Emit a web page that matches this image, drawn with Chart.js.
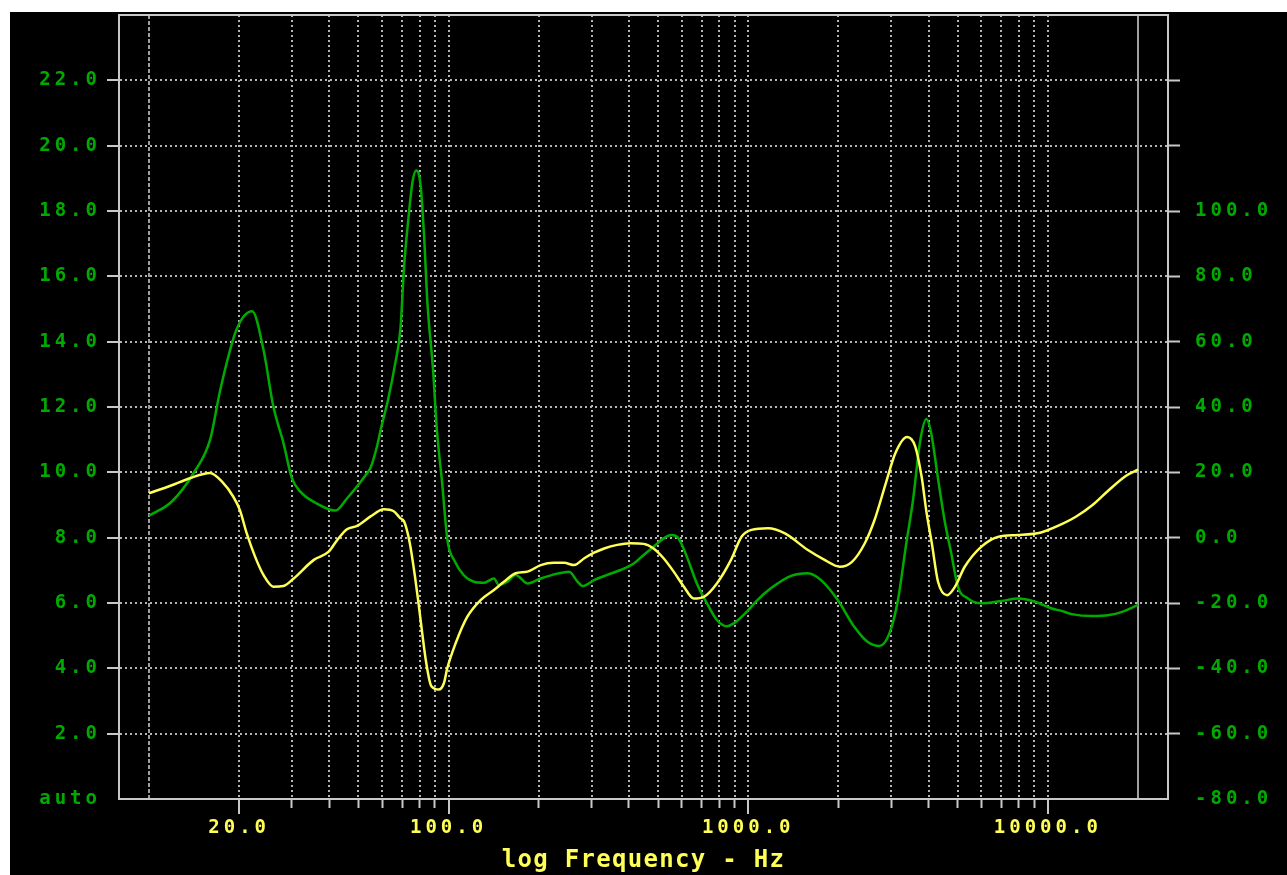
<!DOCTYPE html>
<html>
<head>
<meta charset="utf-8">
<title>Impedance and Phase vs Frequency</title>
<script src="https://cdn.jsdelivr.net/npm/chart.js@4.4.1/dist/chart.umd.min.js"></script>
<style>
    html, body { margin: 0; padding: 0; background: #ffffff; }
    #panel { position: absolute; left: 10px; top: 12px; width: 1277px; height: 863px; background: #000000; }
    #impedanceChart { display: block; }
</style>
</head>
<body>
<div id="panel"><canvas id="impedanceChart" width="1277" height="863"></canvas></div>
<script>
// ===========================
// Measured data (read off the plot)
// ===========================

// impedance magnitude, ohms (left axis)
const impFreqHz = [10, 11.9, 14.1, 16, 17.3, 19.6, 22.1, 24.1, 26, 28.1, 30, 32, 35.9, 41.9, 45.8, 53.5, 54.9, 57.7,
    59.5, 62.8, 66.3, 69.1, 71, 73.3, 75.8, 78, 80.6, 82.8, 85, 88.8, 91.3, 95.1, 99.2, 104.5, 112.4, 121.5, 131.3,
    141.7, 147.1, 157, 167.5, 183.4, 203, 230.8, 252.5, 269.6, 280.1, 305.9, 338.5, 374.9, 415, 447.9, 483.3, 521.8,
    556.1, 584.9, 623.8, 673.8, 728.3, 786.1, 848.8, 892, 988, 1073, 1190, 1390, 1582, 1750, 1990, 2260, 2500, 2740,
    2960, 3160, 3370, 3550, 3740, 3930, 4080, 4290, 4520, 4760, 5010, 5410, 5990, 7000, 7960, 9060, 10300, 11100,
    12000, 14100, 16000, 17700, 20000];
const impOhms = [8.67, 9.1, 9.98, 11.0, 12.53, 14.37, 14.93, 13.76, 12.02, 10.9, 9.82, 9.41, 9.07, 8.83, 9.2, 9.98, 10.14, 10.8,
    11.35, 12.22, 13.32, 14.41, 16.28, 17.7, 18.9, 19.24, 18.8, 17.26, 15.18, 13.1, 11.35, 9.7, 7.9, 7.3, 6.85, 6.65, 6.62,
    6.75, 6.55, 6.65, 6.86, 6.6, 6.75, 6.9, 6.96, 6.65, 6.52, 6.7, 6.86, 7.01, 7.21, 7.47, 7.72, 7.98,
    8.08, 7.98, 7.42, 6.6, 5.99, 5.48, 5.29, 5.37, 5.73, 6.09, 6.45, 6.83, 6.91, 6.7, 6.09, 5.27, 4.81, 4.68,
    5.07, 6.09, 7.83, 9.16, 10.9, 11.63, 11.2, 9.87, 8.54, 7.52, 6.5, 6.14, 5.99, 6.06, 6.14, 6.04, 5.83, 5.76,
    5.66, 5.6, 5.63, 5.73, 5.94];

// phase, degrees (right axis)
const phaseFreqHz = [10, 11.8, 13.7, 16, 17.5, 19.1, 20.1, 21.2, 22.6, 24.1, 26, 28.1, 30.4, 35.5, 39.8, 42.5, 45.8, 49.5,
    54.9, 60.8, 65.6, 68.9, 71, 74.2, 77.4, 79.4, 81.6, 84, 87.5, 92.8, 96.5, 98.9, 105.5, 115.5, 127.9, 141.7, 153,
    167.5, 183.4, 203, 224.7, 243, 262.5, 283.8, 306, 330.5, 365.7, 405, 447.9, 483.3, 521.8, 564, 610, 658, 711,
    786, 876, 950, 1025, 1164, 1326, 1582, 1798, 2020, 2220, 2450, 2640, 2880, 3100, 3390, 3610, 3790, 3940, 4100,
    4300, 4610, 4900, 5280, 5990, 6850, 7960, 9490, 10800, 12400, 14100, 16000, 18200, 20000];
const phaseDeg = [13.6, 15.9, 18.2, 19.8, 17.2, 12.6, 8.5, 1.3, -5.8, -11.4, -15.0, -14.8, -12.5, -6.8, -4.3, -0.7, 2.6, 3.6,
    6.5, 8.7, 8.1, 6.0, 5.0, -1.6, -12.5, -20.2, -29.0, -37.7, -45.4, -46.5, -44.5, -40.1, -32.4, -24.2, -19.1, -16.0, -13.5,
    -10.9, -10.4, -8.4, -7.7, -7.7, -8.4, -6.3, -4.6, -3.3, -2.2, -1.7, -1.9, -3.3, -6.3, -10.4, -15.0, -18.6, -18.1,
    -14.0, -6.8, 0.3, 2.4, 2.9, 1.3, -3.8, -6.8, -8.9, -7.4, -1.7, 5.4, 16.7, 25.9, 30.8, 27.9, 18.7, 7.5, -1.7,
    -13.5, -17.6, -15.0, -8.9, -2.8, 0.3, 0.8, 1.6, 3.6, 6.4, 10.0, 14.6, 18.9, 20.8];

// frequency grid lines and the ones that get a label
const freqGridHz = [10, 20, 30, 40, 50, 60, 70, 80, 90, 100, 200, 300, 400, 500, 600, 700, 800, 900,
    1000, 2000, 3000, 4000, 5000, 6000, 7000, 8000, 9000, 10000, 20000];
const freqLabeledHz = [20, 100, 1000, 10000];
const freqEdgeHz = [10, 20000];

const FREQ_MIN = 7.943;
const FREQ_MAX = 25179;

// ===========================
// Look
// ===========================

const GREEN = '#00aa00';
const YELLOW = '#ffff55';
const FRAME = '#c8c8c8';
const GRID = '#b4b4b4';
const EDGE_LINE = '#a0a0a0';
const MONO = "'DejaVu Sans Mono', 'Liberation Mono', monospace";
const TICK_FONT = { family: MONO, size: 19, weight: 'bold' };

// Chart.js has no letter spacing option, the old bitmap font is very wide
const letterSpacingPlugin = {
    id: 'letterSpacing',
    beforeDraw(chart) { chart.ctx.letterSpacing = '1.3px'; },          // axis title (grid layer)
    afterDatasetsDraw(chart) { chart.ctx.letterSpacing = '4px'; },     // tick labels (z = 1)
    afterDraw(chart) { chart.ctx.letterSpacing = '0px'; }
};

function setFreqTicks(scale) {
    scale.ticks = freqGridHz.map(v => ({ value: v }));
}

// the frame is fixed, label overhang must not push the plot area around
function fixBox(width, height) {
    return (scale) => {
        if (width !== null) scale.width = width;
        if (height !== null) scale.height = height;
        scale.paddingTop = 0;
        scale.paddingBottom = 0;
        scale.paddingLeft = 0;
        scale.paddingRight = 0;
    };
}

document.addEventListener('DOMContentLoaded', function() {
    initializeChart();
});

// ===========================
// Chart
// ===========================

let impedanceChart;

function initializeChart() {
    const ctx = document.getElementById('impedanceChart');
    if (!ctx) return;

    impedanceChart = new Chart(ctx, {
        type: 'line',
        data: {
            datasets: [{
                label: 'Phase',
                data: phaseFreqHz.map((f, i) => ({ x: f, y: phaseDeg[i] })),
                xAxisID: 'x',
                yAxisID: 'y2',
                borderColor: YELLOW,
                borderWidth: 2.5,
                pointRadius: 0,
                cubicInterpolationMode: 'monotone',
                fill: false
            }, {
                label: 'Impedance',
                data: impFreqHz.map((f, i) => ({ x: f, y: impOhms[i] })),
                xAxisID: 'x',
                yAxisID: 'y',
                borderColor: GREEN,
                borderWidth: 2.5,
                pointRadius: 0,
                cubicInterpolationMode: 'monotone',
                fill: false
            }]
        },
        options: {
            responsive: false,
            devicePixelRatio: 1,
            animation: false,
            layout: { padding: 0 },
            plugins: {
                legend: { display: false },
                tooltip: { enabled: false }
            },
            scales: {
                x: {
                    type: 'logarithmic',
                    position: 'bottom',
                    min: FREQ_MIN,
                    max: FREQ_MAX,
                    afterBuildTicks: setFreqTicks,
                    afterFit: fixBox(null, 76),
                    grid: {
                        color: (c) => freqEdgeHz.includes(c.tick.value) ? EDGE_LINE : GRID,
                        lineWidth: 2,
                        drawTicks: true,
                        tickLength: 15,
                        tickWidth: 2,
                        tickColor: (c) => freqLabeledHz.includes(c.tick.value) ? FRAME : 'transparent'
                    },
                    border: {
                        display: true,
                        color: FRAME,
                        width: 2,
                        dash: (c) => {
                            if (!c.tick) return [];
                            if (c.tick.value === 10) return [4, 2];
                            if (c.tick.value === 20000) return [];
                            return [2, 3];
                        }
                    },
                    ticks: {
                        z: 1,
                        autoSkip: false,
                        maxRotation: 0,
                        minRotation: 0,
                        padding: 3,
                        color: YELLOW,
                        font: TICK_FONT,
                        callback: (value) => freqLabeledHz.includes(value) ? value.toFixed(1) : ''
                    },
                    title: {
                        display: true,
                        text: 'log Frequency - Hz',
                        color: YELLOW,
                        font: { family: MONO, size: 24, weight: 'bold' },
                        padding: { top: 0, bottom: 0 }
                    }
                },
                xMinor: {
                    type: 'logarithmic',
                    position: { y: 0 },
                    min: FREQ_MIN,
                    max: FREQ_MAX,
                    afterBuildTicks: setFreqTicks,
                    grid: {
                        drawOnChartArea: false,
                        drawTicks: true,
                        tickLength: 9,
                        tickWidth: 2,
                        tickColor: (c) => (freqLabeledHz.includes(c.tick.value) || freqEdgeHz.includes(c.tick.value))
                            ? 'transparent' : FRAME
                    },
                    border: { display: false },
                    ticks: { display: false, autoSkip: false }
                },
                xTop: {
                    type: 'logarithmic',
                    position: 'top',
                    min: FREQ_MIN,
                    max: FREQ_MAX,
                    afterFit: fixBox(null, 3),
                    grid: { drawOnChartArea: false, drawTicks: false },
                    border: { display: true, color: FRAME, width: 2 },
                    ticks: { display: false }
                },
                y: {
                    type: 'linear',
                    position: 'left',
                    min: 0,
                    max: 24,
                    afterFit: fixBox(109, null),
                    grid: {
                        color: (c) => (c.tick.value === 0 || c.tick.value === 24) ? 'transparent' : GRID,
                        lineWidth: 2,
                        drawTicks: true,
                        tickLength: 12,
                        tickWidth: 2,
                        tickColor: (c) => (c.tick.value === 0 || c.tick.value === 24) ? 'transparent' : FRAME
                    },
                    border: { display: true, color: FRAME, width: 2, dash: [2, 3] },
                    ticks: {
                        z: 1,
                        stepSize: 2,
                        padding: 6,
                        color: GREEN,
                        font: TICK_FONT,
                        callback: (value) => value === 0 ? 'auto' : (value === 24 ? '' : value.toFixed(1))
                    }
                },
                y2: {
                    type: 'linear',
                    position: 'right',
                    min: -80,
                    max: 160,
                    afterFit: fixBox(119, null),
                    grid: {
                        drawOnChartArea: false,
                        drawTicks: true,
                        tickLength: 12,
                        tickWidth: 2,
                        tickColor: (c) => (c.tick.value === -80 || c.tick.value === 160) ? 'transparent' : FRAME
                    },
                    border: { display: true, color: FRAME, width: 2 },
                    ticks: {
                        z: 1,
                        stepSize: 20,
                        padding: 15,
                        color: GREEN,
                        font: TICK_FONT,
                        callback: (value) => value <= 100 ? value.toFixed(1) : ''
                    }
                }
            }
        },
        plugins: [letterSpacingPlugin]
    });
}
</script>
</body>
</html>
